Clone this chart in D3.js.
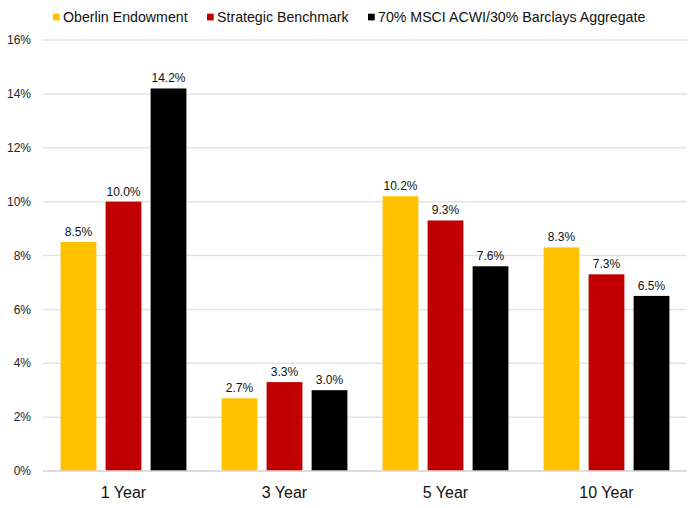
<!DOCTYPE html>
<meta charset="utf-8">
<script src="https://d3js.org/d3.v7.min.js"></script>
<style>
  body { margin: 0; background: #fff; }
  text { font-family: "Liberation Sans", Arial, sans-serif; }
</style>
<div id="chart"></div>
<script>
    // data
    const periods = ["1 Year", "3 Year", "5 Year", "10 Year"];
    const seriesNames = ["Oberlin Endowment", "Strategic Benchmark", "70% MSCI ACWI/30% Barclays Aggregate"];
    const oberlin = [8.5, 2.7, 10.2, 8.3];
    const strategic = [10.0, 3.3, 9.3, 7.3];
    const msci = [14.2, 3.0, 7.6, 6.5];
    const yTicks = [0, 2, 4, 6, 8, 10, 12, 14, 16];

    const colors = ["#FFC000", "#C00000", "#000000"];
    const allSeries = [oberlin, strategic, msci];

    const W = 700, H = 508;
    const margin = {top: 40, right: 13, bottom: 37, left: 43};
    const width = W - margin.left - margin.right,
          height = H - margin.top - margin.bottom;

    const svg = d3.select("#chart").append("svg")
        .attr("width", W).attr("height", H);

    const g = svg.append("g")
        .attr("transform", "translate(" + margin.left + "," + margin.top + ")");

    const x = d3.scaleBand().domain(periods).range([0, width]).padding(0);
    const xs = d3.scaleBand().domain(d3.range(3))
        .range([17.6, x.bandwidth() - 17.6]).paddingInner(0.205);
    const y = d3.scaleLinear().domain([0, 16]).range([height, 0]);

    // gridlines
    g.selectAll("line.grid").data(yTicks).enter().append("line")
        .attr("x1", 0).attr("x2", width)
        .attr("y1", d => y(d)).attr("y2", d => y(d))
        .attr("stroke", "#e3e3e3").attr("stroke-width", 1.5);

    // y labels
    g.selectAll("text.ytick").data(yTicks).enter().append("text")
        .attr("x", -12).attr("y", d => y(d)).attr("dy", "0.35em")
        .attr("text-anchor", "end").attr("font-size", 12).attr("fill", "#222")
        .text(d => d + "%");

    // bars
    const groups = g.selectAll("g.period").data(periods).enter().append("g")
        .attr("transform", d => "translate(" + x(d) + ",0)");

    groups.each(function(p, i) {
      const grp = d3.select(this);
      allSeries.forEach((s, k) => {
        grp.append("rect")
          .attr("x", xs(k)).attr("width", xs.bandwidth())
          .attr("y", y(s[i])).attr("height", height - y(s[i]))
          .attr("fill", colors[k]);
        grp.append("text")
          .attr("x", xs(k) + xs.bandwidth() / 2).attr("y", y(s[i]) - 6)
          .attr("text-anchor", "middle").attr("font-size", 12).attr("fill", "#111")
          .text(s[i].toFixed(1) + "%");
      });
    });

    // x axis line
    g.append("line").attr("x1", 0).attr("x2", width)
        .attr("y1", height).attr("y2", height)
        .attr("stroke", "#d9d9d9").attr("stroke-width", 1.5);

    // x labels
    g.selectAll("text.xlab").data(periods).enter().append("text")
        .attr("x", d => x(d) + x.bandwidth() / 2).attr("y", height + 27)
        .attr("text-anchor", "middle").attr("font-size", 16).attr("fill", "#111")
        .text(d => d);

    // legend
    const legendX = [53, 207, 368];
    const legend = svg.selectAll("g.legend").data(seriesNames).enter().append("g")
        .attr("transform", (d, i) => "translate(" + legendX[i] + ",17)");
    legend.append("rect").attr("x", 0).attr("y", -3.3).attr("width", 6.7).attr("height", 6.7)
        .attr("fill", (d, i) => colors[i]);
    legend.append("text").attr("x", 10).attr("y", 0).attr("dy", "0.35em")
        .attr("font-size", 14.2).attr("fill", "#111")
        .text(d => d);
</script>
